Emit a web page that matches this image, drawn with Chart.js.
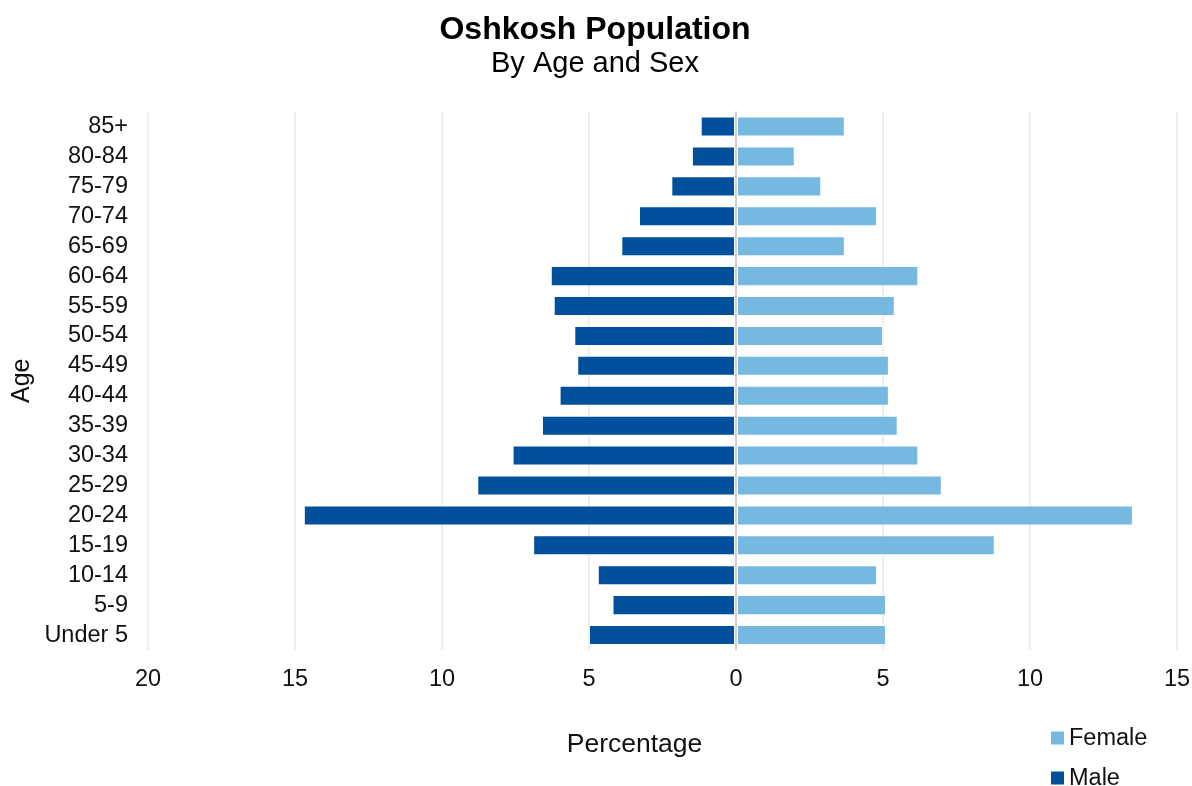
<!DOCTYPE html>
<html>
<head>
<meta charset="utf-8">
<title>Oshkosh Population</title>
<script src="https://cdn.jsdelivr.net/npm/chart.js@4/dist/chart.umd.min.js"></script>
<style>
  html, body { margin: 0; padding: 0; background: #ffffff; }
  #wrap { position: relative; width: 1192px; height: 786px; }
  #pyramid { display: block; }
</style>
</head>
<body>
<div id="wrap"><canvas id="pyramid" width="1192" height="786"></canvas></div>
<script>
// Age groups, youngest first (drawn bottom-up)
const ageGroups = ['Under 5', '5-9', '10-14', '15-19', '20-24', '25-29', '30-34', '35-39', '40-44',
                   '45-49', '50-54', '55-59', '60-64', '65-69', '70-74', '75-79', '80-84', '85+'];

// Share of population (%) per age group
const malePct   = [5.0, 4.2, 4.7, 6.9, 14.7, 8.8, 7.6, 6.6, 6.0, 5.4, 5.5, 6.2, 6.3, 3.9, 3.3, 2.2, 1.5, 1.2];
const femalePct = [5.1, 5.1, 4.8, 8.8, 13.5, 7.0, 6.2, 5.5, 5.2, 5.2, 5.0, 5.4, 6.2, 3.7, 4.8, 2.9, 2.0, 3.7];

// Axis range and tick step
const xMin = -20;
const xMax = 15;
const xStep = 5;

const FONT = "'Liberation Sans', Arial, Helvetica, sans-serif";
const MALE_COLOR = '#00509b';
const FEMALE_COLOR = '#75b8e0';

// Draws the zero line on top of the bars
const zeroLine = {
  id: 'zeroLine',
  afterDatasetsDraw(chart) {
    const { ctx, chartArea, scales } = chart;
    const x = scales.x.getPixelForValue(0);
    ctx.save();
    ctx.strokeStyle = '#d3d3d3';
    ctx.lineWidth = 2;
    ctx.beginPath();
    ctx.moveTo(x, chartArea.top);
    ctx.lineTo(x, chartArea.bottom);
    ctx.stroke();
    ctx.restore();
  }
};

// Axis title for x and a stacked legend in the lower right corner
const bottomLabels = {
  id: 'bottomLabels',
  afterDraw(chart) {
    const { ctx, chartArea } = chart;
    ctx.save();
    ctx.fillStyle = '#111111';
    ctx.textBaseline = 'middle';
    ctx.font = '26.5px ' + FONT;
    ctx.textAlign = 'center';
    ctx.fillText('Percentage', (chartArea.left + chartArea.right) / 2 - 28, 745);

    const items = [...chart.data.datasets].reverse();
    const lx = chart.width - 141;
    items.forEach((ds, i) => {
      const cy = 738 + i * 40;
      ctx.fillStyle = ds.backgroundColor;
      ctx.fillRect(lx, cy - 6.5, 13, 13);
      ctx.fillStyle = '#111111';
      ctx.font = '23.5px ' + FONT;
      ctx.textAlign = 'left';
      ctx.fillText(ds.label, lx + 18, cy + 1);
    });
    ctx.restore();
  }
};

new Chart(document.getElementById('pyramid'), {
  type: 'bar',
  data: {
    labels: ageGroups,
    datasets: [
      {
        label: 'Male',
        data: malePct.map(v => -v),
        backgroundColor: MALE_COLOR,
        borderColor: 'rgba(255,255,255,0.45)',
        borderWidth: 1,
        borderSkipped: false
      },
      {
        label: 'Female',
        data: femalePct,
        backgroundColor: FEMALE_COLOR,
        borderColor: 'rgba(255,255,255,0.45)',
        borderWidth: 1,
        borderSkipped: false
      }
    ]
  },
  options: {
    indexAxis: 'y',
    responsive: false,
    maintainAspectRatio: false,
    animation: false,
    devicePixelRatio: 1,
    layout: { padding: { left: 0, right: 2, top: 0, bottom: 0 } },
    datasets: {
      bar: { categoryPercentage: 1.0, barPercentage: 0.67 }
    },
    scales: {
      x: {
        stacked: true,
        min: xMin,
        max: xMax,
        border: { display: false },
        grid: {
          drawTicks: false,
          color: '#eeeeee',
          lineWidth: 2
        },
        ticks: {
          stepSize: xStep,
          padding: 15,
          maxRotation: 0,
          color: '#111111',
          font: { family: FONT, size: 23.5 },
          callback: v => Math.abs(v)
        },
        afterFit(scale) {
          scale.height = 136;
          scale.paddingRight = 15;
        }
      },
      y: {
        stacked: true,
        reverse: true,
        border: { display: false },
        grid: { display: false, drawTicks: false },
        ticks: {
          padding: 20,
          autoSkip: false,
          color: '#111111',
          font: { family: FONT, size: 23.5 }
        },
        title: {
          display: true,
          text: 'Age',
          color: '#111111',
          font: { family: FONT, size: 25, lineHeight: 1.2 },
          padding: { top: 7, bottom: 0 }
        },
        afterFit(scale) { scale.width = 148; }
      }
    },
    plugins: {
      legend: { display: false },
      tooltip: { enabled: false },
      title: {
        display: true,
        text: 'Oshkosh Population',
        color: '#000000',
        font: { family: FONT, size: 32, weight: 'bold', lineHeight: 1.1 },
        padding: { top: 13, bottom: 0 }
      },
      subtitle: {
        display: true,
        text: 'By Age and Sex',
        color: '#000000',
        font: { family: FONT, size: 29, lineHeight: 1.1 },
        padding: { top: 0, bottom: 31.5 }
      }
    }
  },
  plugins: [zeroLine, bottomLabels]
});
</script>
</body>
</html>
